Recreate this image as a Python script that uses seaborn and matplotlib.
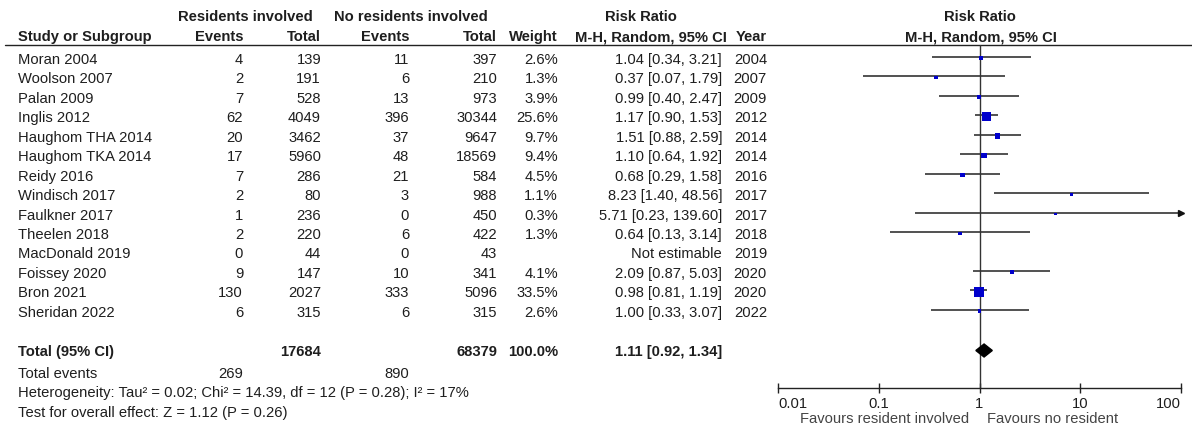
import matplotlib
matplotlib.use("Agg")
import numpy as np
import pandas as pd
import seaborn as sns
import matplotlib.pyplot as plt

# ---------------- data ----------------
studies = ["Moran 2004", "Woolson 2007", "Palan 2009", "Inglis 2012", "Haughom THA 2014",
           "Haughom TKA 2014", "Reidy 2016", "Windisch 2017", "Faulkner 2017", "Theelen 2018",
           "MacDonald 2019", "Foissey 2020", "Bron 2021", "Sheridan 2022"]
events_res = [4, 2, 7, 62, 20, 17, 7, 2, 1, 2, 0, 9, 130, 6]
total_res = [139, 191, 528, 4049, 3462, 5960, 286, 80, 236, 220, 44, 147, 2027, 315]
events_nores = [11, 6, 13, 396, 37, 48, 21, 3, 0, 6, 0, 10, 333, 6]
total_nores = [397, 210, 973, 30344, 9647, 18569, 584, 988, 450, 422, 43, 341, 5096, 315]
weights = [2.6, 1.3, 3.9, 25.6, 9.7, 9.4, 4.5, 1.1, 0.3, 1.3, np.nan, 4.1, 33.5, 2.6]
rr = [1.04, 0.37, 0.99, 1.17, 1.51, 1.10, 0.68, 8.23, 5.71, 0.64, np.nan, 2.09, 0.98, 1.00]
rr_lo = [0.34, 0.07, 0.40, 0.90, 0.88, 0.64, 0.29, 1.40, 0.23, 0.13, np.nan, 0.87, 0.81, 0.33]
rr_hi = [3.21, 1.79, 2.47, 1.53, 2.59, 1.92, 1.58, 48.56, 139.60, 3.14, np.nan, 5.03, 1.19, 3.07]
years = [2004, 2007, 2009, 2012, 2014, 2014, 2016, 2017, 2017, 2018, 2019, 2020, 2020, 2022]

total_n_res = 17684
total_n_nores = 68379
total_weight = "100.0%"
pooled = (1.11, 0.92, 1.34)
total_events = (269, 890)
heterogeneity = "Heterogeneity: Tau\u00b2 = 0.02; Chi\u00b2 = 14.39, df = 12 (P = 0.28); I\u00b2 = 17%"
overall = "Test for overall effect: Z = 1.12 (P = 0.26)"
tick_vals = [0.01, 0.1, 1, 10, 100]
tick_labels = ["0.01", "0.1", "1", "10", "100"]
fav_left = "Favours resident involved"
fav_right = "Favours no resident"

# ---------------- style ----------------
sns.set_theme(style="white")
plt.rcParams["font.family"] = ["Liberation Sans", "DejaVu Sans"]
FS = 10.6
TXT = "#1e1e1e"

W, H = 1192, 425
fig = plt.figure(figsize=(W / 100, H / 100), dpi=100)
fig.patch.set_facecolor("white")

ax_t = fig.add_axes([0, 0, 1, 1])
ax_t.set_xlim(0, W)
ax_t.set_ylim(H, 0)
ax_t.axis("off")

def row_y(i):
    return 60 + 19.45 * i

def txt(x, y, s, ha="left", bold=False, color=TXT):
    ax_t.text(x, y, s, ha=ha, va="center", fontsize=FS,
              fontweight="bold" if bold else "normal", color=color)

# headers
txt(245, 17, "Residents involved", ha="center", bold=True)
txt(411, 17, "No residents involved", ha="center", bold=True)
txt(641, 17, "Risk Ratio", ha="center", bold=True)
txt(980, 17, "Risk Ratio", ha="center", bold=True)
txt(18, 37, "Study or Subgroup", bold=True)
txt(243, 37, "Events", ha="right", bold=True)
txt(321, 37, "Total", ha="right", bold=True)
txt(409, 37, "Events", ha="right", bold=True)
txt(497, 37, "Total", ha="right", bold=True)
txt(558, 37, "Weight", ha="right", bold=True)
txt(727, 37, "M-H, Random, 95% CI", ha="right", bold=True)
txt(767, 37, "Year", ha="right", bold=True)
txt(981, 37, "M-H, Random, 95% CI", ha="center", bold=True)
ax_t.plot([5, W], [45, 45], color="#222222", lw=1.0)

for i, name in enumerate(studies):
    y = row_y(i)
    txt(18, y, name)
    txt(243, y, str(events_res[i]), ha="right")
    txt(321, y, str(total_res[i]), ha="right")
    txt(409, y, str(events_nores[i]), ha="right")
    txt(497, y, str(total_nores[i]), ha="right")
    if not np.isnan(weights[i]):
        txt(558, y, f"{weights[i]:.1f}%", ha="right")
    if np.isnan(rr[i]):
        txt(722, y, "Not estimable", ha="right")
    else:
        txt(722, y, f"{rr[i]:.2f} [{rr_lo[i]:.2f}, {rr_hi[i]:.2f}]", ha="right")
    txt(767, y, str(years[i]), ha="right")

yt = 352
txt(18, yt, "Total (95% CI)", bold=True)
txt(321, yt, str(total_n_res), ha="right", bold=True)
txt(497, yt, str(total_n_nores), ha="right", bold=True)
txt(558, yt, total_weight, ha="right", bold=True)
txt(722, yt, f"{pooled[0]:.2f} [{pooled[1]:.2f}, {pooled[2]:.2f}]", ha="right", bold=True)
txt(18, 374, "Total events")
txt(243, 374, str(total_events[0]), ha="right")
txt(409, 374, str(total_events[1]), ha="right")
txt(18, 393, heterogeneity)
txt(18, 413, overall)

# ---------------- forest panel ----------------
x0, x1, ytop, ybot = 778, 1181, 45, 388
ax_f = fig.add_axes([x0 / W, (H - ybot) / H, (x1 - x0) / W, (ybot - ytop) / H])
ax_f.patch.set_alpha(0)
ax_f.set_xscale("log")
ax_f.set_xlim(0.01, 100)
ax_f.set_ylim(ybot, ytop)

ax_f.axvline(1, color="#333333", lw=1.0, zorder=1)

OFF = -3
ys = np.array([row_y(i) + OFF for i in range(len(studies))])
lo = np.array(rr_lo)
hi = np.array(rr_hi)
ok = ~np.isnan(np.array(rr))
ax_f.hlines(ys[ok], lo[ok], np.minimum(hi[ok], 100), color="#333333", lw=1.2, zorder=2,
            clip_on=False)
over = ok & (hi > 100)
ax_f.plot(np.full(over.sum(), 100), ys[over], marker=">", color="#111111", ms=5,
          ls="none", clip_on=False, zorder=3)

df = pd.DataFrame({"rr": rr, "y": ys + 1.2, "w": weights}).dropna()
sns.scatterplot(data=df, x="rr", y="y", size="w", sizes=(3, 52), size_norm=(0, 33.5),
                marker="s", color="#0000CC", linewidth=0, legend=False, ax=ax_f, zorder=4)

yd = yt + OFF + 1.5
h = 6.5
ax_f.fill([pooled[1], pooled[0], pooled[2], pooled[0]], [yd, yd - h, yd, yd + h],
          color="black", zorder=5)

for s in ["top", "left", "right"]:
    ax_f.spines[s].set_visible(False)
ax_f.spines["bottom"].set_color("#222222")
ax_f.spines["bottom"].set_linewidth(1.0)
ax_f.set_xticks(tick_vals)
ax_f.set_xticklabels(tick_labels)
ax_f.minorticks_off()
ax_f.tick_params(axis="x", direction="inout", length=7, width=1, color="#222222",
                 labelsize=FS, labelcolor=TXT, pad=3, bottom=True)
labs = ax_f.get_xticklabels()
labs[0].set_horizontalalignment("left")
labs[-1].set_horizontalalignment("right")
ax_f.set_yticks([])
ax_f.set_xlabel("")
ax_f.set_ylabel("")

txt(969, 419, fav_left, ha="right", color="#444444")
txt(987, 419, fav_right, ha="left", color="#444444")

fig.savefig("out.png", dpi=100, facecolor="white")
